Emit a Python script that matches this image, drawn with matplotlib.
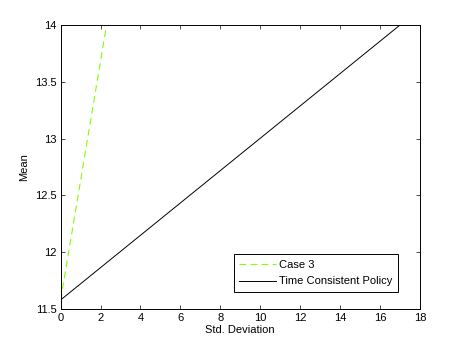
import matplotlib
matplotlib.use("Agg")
import matplotlib.pyplot as plt

# data
case3_std = [0.0, 2.3]
case3_mean = [11.58, 14.0]
tcp_std = [0.0, 17.0]
tcp_mean = [11.58, 14.0]

xticks = [0, 2, 4, 6, 8, 10, 12, 14, 16, 18]
yticks = [11.5, 12, 12.5, 13, 13.5, 14]

plt.rcParams['font.family'] = ['Liberation Sans', 'DejaVu Sans']
plt.rcParams['font.size'] = 8

fig = plt.figure(figsize=(4.63, 3.48), dpi=100)
ax = fig.add_axes([0.131, 0.112, 0.776, 0.816])

ax.plot(case3_std, case3_mean, color='#80ff00', linestyle=(0, (6, 4)), lw=0.8, label='Case 3')
ax.plot(tcp_std, tcp_mean, color='black', lw=0.7, label='Time Consistent Policy')

ax.set_xlim(0, 18)
ax.set_ylim(11.5, 14)
ax.set_xticks(xticks)
ax.set_xticklabels([str(t) for t in xticks])
ax.set_yticks(yticks)
ax.set_yticklabels(['11.5', '12', '12.5', '13', '13.5', '14'])
ax.tick_params(direction='in', top=True, right=True, length=3, width=0.5, pad=3)
for s in ax.spines.values():
    s.set_linewidth(0.7)

ax.set_xlabel('Std. Deviation', labelpad=1)
ax.set_ylabel('Mean', labelpad=4)

leg = ax.legend(loc='lower right', bbox_to_anchor=(0.939, 0.060), borderaxespad=0,
                fancybox=False, edgecolor='black', framealpha=1, borderpad=0.5,
                handlelength=3.3, labelspacing=0.6, handletextpad=0.3)
leg.get_frame().set_linewidth(0.7)

fig.savefig('out.png', dpi=100)
